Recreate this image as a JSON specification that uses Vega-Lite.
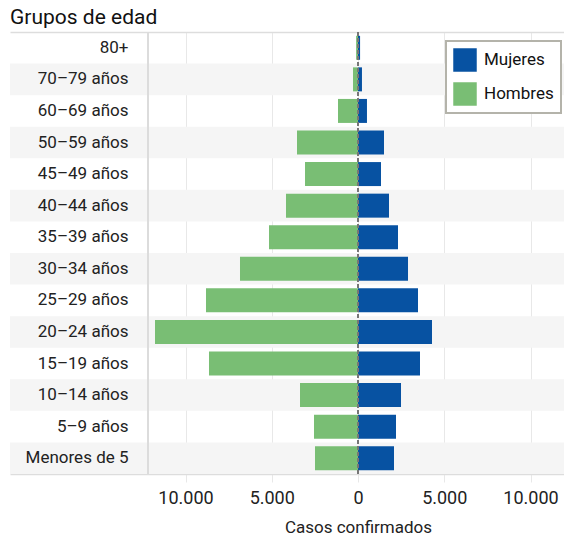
{
  "$schema": "https://vega.github.io/schema/vega-lite/v6.json",
  "width": 554,
  "height": 442,
  "autosize": {"type": "none"},
  "padding": {"left": 10, "top": 32, "right": 0, "bottom": 64},
  "background": "white",
  "title": {"text": "Grupos de edad", "anchor": "start", "frame": "group", "fontSize": 21, "fontWeight": "normal", "font": "Roboto", "color": "#111", "offset": 3},
  "config": {
    "font": "Roboto",
    "view": {"stroke": null},
    "legend": {"strokeWidth": 2}
  },
  "data": {
    "values": [
      {"grupo": "80+", "Mujeres": 120, "Hombres": 110},
      {"grupo": "70–79 años", "Mujeres": 230, "Hombres": 290},
      {"grupo": "60–69 años", "Mujeres": 520, "Hombres": 1160},
      {"grupo": "50–59 años", "Mujeres": 1507, "Hombres": 3536},
      {"grupo": "45–49 años", "Mujeres": 1333, "Hombres": 3072},
      {"grupo": "40–44 años", "Mujeres": 1797, "Hombres": 4174},
      {"grupo": "35–39 años", "Mujeres": 2319, "Hombres": 5159},
      {"grupo": "30–34 años", "Mujeres": 2899, "Hombres": 6841},
      {"grupo": "25–29 años", "Mujeres": 3478, "Hombres": 8812},
      {"grupo": "20–24 años", "Mujeres": 4290, "Hombres": 11768},
      {"grupo": "15–19 años", "Mujeres": 3594, "Hombres": 8638},
      {"grupo": "10–14 años", "Mujeres": 2493, "Hombres": 3362},
      {"grupo": "5–9 años", "Mujeres": 2203, "Hombres": 2551},
      {"grupo": "Menores de 5", "Mujeres": 2087, "Hombres": 2493}
    ]
  },
  "layer": [
    {
      "transform": [
        {"window": [{"op": "row_number", "as": "fila"}]},
        {"filter": "datum.fila % 2 == 0"}
      ],
      "mark": {"type": "rect", "color": "#f5f5f5"},
      "encoding": {
        "y": {
          "field": "grupo", "type": "nominal",
          "scale": {"domain": ["80+", "70–79 años", "60–69 años", "50–59 años", "45–49 años", "40–44 años", "35–39 años", "30–34 años", "25–29 años", "20–24 años", "15–19 años", "10–14 años", "5–9 años", "Menores de 5"], "paddingInner": 0, "paddingOuter": 0},
          "axis": {"title": null, "domain": false, "ticks": false, "tickSize": 0, "grid": false, "labelAlign": "right", "labelPadding": -118, "labelFontSize": 17, "labelFont": "Roboto", "labelColor": "#222"}
        }
      }
    },
    {
      "mark": {"type": "rule", "color": "#dddddd", "strokeWidth": 1},
      "encoding": {
        "x": {"datum": -12174, "type": "quantitative", "scale": {"domain": [-20174, 11942], "nice": false, "zero": false}, "axis": null}
      }
    },
    {
      "transform": [
        {"fold": ["Mujeres", "Hombres"], "as": ["sexo", "casos"]},
        {"calculate": "datum.sexo == 'Hombres' ? -datum.casos : datum.casos", "as": "valor"}
      ],
      "mark": {"type": "bar", "height": {"band": 0.76}},
      "encoding": {
        "y": {
          "field": "grupo", "type": "nominal",
          "scale": {"domain": ["80+", "70–79 años", "60–69 años", "50–59 años", "45–49 años", "40–44 años", "35–39 años", "30–34 años", "25–29 años", "20–24 años", "15–19 años", "10–14 años", "5–9 años", "Menores de 5"], "paddingInner": 0, "paddingOuter": 0},
          "axis": {"title": null, "domain": false, "ticks": false, "tickSize": 0, "grid": false, "labelAlign": "right", "labelPadding": -118, "labelFontSize": 17, "labelFont": "Roboto", "labelColor": "#222"}
        },
        "x": {
          "field": "valor", "type": "quantitative", "stack": null,
          "scale": {"domain": [-20174, 11942], "nice": false, "zero": false},
          "axis": {
            "values": [-10000, -5000, 0, 5000, 10000],
            "labelExpr": "replace(format(abs(datum.value), ',.0f'), ',', '.')",
            "grid": true, "gridColor": "#e8e8e8", "gridWidth": 1,
            "tickColor": "#e8e8e8", "tickSize": 8,
            "domainColor": "#dddddd", "domainWidth": 1.5,
            "labelFontSize": 18, "labelPadding": 7, "labelColor": "#222", "labelFont": "Roboto",
            "title": "Casos confirmados", "titleFontSize": 17, "titleFontWeight": "normal", "titleColor": "#222", "titleFont": "Roboto",
            "titleX": 348, "titlePadding": 12
          }
        },
        "color": {
          "field": "sexo", "type": "nominal",
          "scale": {"domain": ["Mujeres", "Hombres"], "range": ["#0752a2", "#79be74"]},
          "legend": {"title": null, "orient": "none", "legendX": 436, "legendY": 9, "symbolType": "square", "symbolSize": 552, "symbolStrokeWidth": 0, "symbolOpacity": 1, "labelFontSize": 17, "labelFont": "Roboto", "labelColor": "#111", "labelOffset": 7, "rowPadding": 10, "padding": 7, "strokeColor": "#b4b3aa", "fillColor": "white", "cornerRadius": 0}
        }
      }
    },
    {
      "mark": {"type": "rule", "color": "#777777", "strokeDash": [4, 2], "strokeWidth": 1.5},
      "encoding": {
        "x": {"datum": 0, "type": "quantitative", "scale": {"domain": [-20174, 11942], "nice": false, "zero": false},
          "axis": {"orient": "top", "labels": false, "ticks": false, "grid": false, "domain": true, "domainColor": "#dddddd", "domainWidth": 1.5, "title": null}}
      }
    }
  ],
  "resolve": {"axis": {"x": "independent"}}
}
